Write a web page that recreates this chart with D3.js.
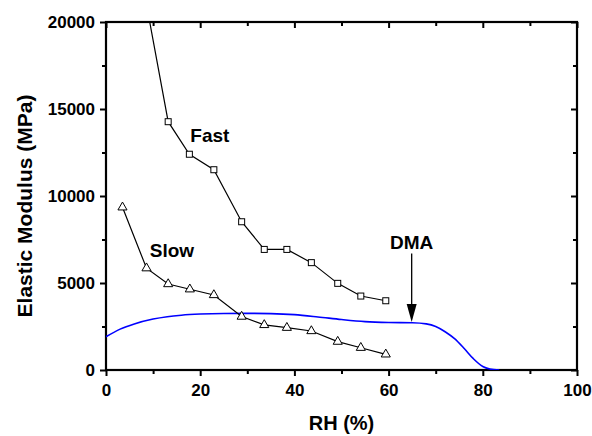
<!DOCTYPE html>
<html>
<head>
<meta charset="utf-8">
<script src="https://cdn.jsdelivr.net/npm/d3@7"></script>
<style>
  body { margin: 0; background: #fff; }
  text { font-family: Arial, "Liberation Sans", sans-serif; font-weight: bold; }
</style>
</head>
<body>
<svg id="chart" width="592" height="436"></svg>
<script>
// Fast test (squares)
const fastRH = [8.6, 13.2, 17.7, 22.9, 28.8, 33.6, 38.4, 43.6, 49.2, 54.1, 59.4];
const fastMod = [21000, 14270, 12400, 11510, 8520, 6930, 6930, 6170, 4980, 4250, 3980];

// Slow test (triangles)
const slowRH = [3.5, 8.6, 13.2, 17.8, 22.9, 28.8, 33.6, 38.4, 43.6, 49.2, 54.1, 59.4];
const slowMod = [9350, 5850, 4940, 4640, 4310, 3070, 2590, 2430, 2240, 1630, 1280, 900];

// DMA curve
const dmaRH = [0, 3, 6, 10, 13, 16, 20, 25, 30, 35, 40, 45, 50, 55, 60, 65, 68, 70, 72, 74, 76, 78, 80, 81.5, 83.5];
const dmaMod = [1910, 2350, 2650, 2930, 3065, 3150, 3215, 3250, 3255, 3240, 3180, 3050, 2900, 2780, 2730, 2715, 2650, 2500, 2200, 1800, 1250, 650, 200, 60, 0];

const xTicks = [0, 20, 40, 60, 80, 100];
const yTicks = [0, 5000, 10000, 15000, 20000];

const svg = d3.select('#chart');
const margin = { top: 22, right: 15, bottom: 66, left: 106 };
const width = 592 - margin.left - margin.right;
const height = 436 - margin.top - margin.bottom;

const x = d3.scaleLinear().domain([0, 100]).range([0, width]);
const y = d3.scaleLinear().domain([0, 20000]).range([height, 0]);

const g = svg.append('g').attr('transform', `translate(${margin.left},${margin.top})`);

g.append('clipPath').attr('id', 'clip')
  .append('rect').attr('width', width).attr('height', height);

const minorX = d3.range(10, 100, 20);
const minorY = d3.range(2500, 20000, 5000);

function styleAxis(sel) {
  sel.select('.domain').remove();
  sel.selectAll('line').attr('stroke', '#000').attr('stroke-width', 2);
  sel.selectAll('text').attr('fill', '#000').style('font-size', '17px');
}

// bottom axis
g.append('g').attr('transform', `translate(0,${height})`)
  .call(d3.axisBottom(x).tickValues(xTicks).tickSize(6).tickPadding(8).tickFormat(d3.format('d')))
  .call(styleAxis);
g.append('g').attr('transform', `translate(0,${height})`)
  .call(d3.axisBottom(x).tickValues(minorX).tickSize(4).tickFormat(''))
  .call(styleAxis);

// left axis
g.append('g')
  .call(d3.axisLeft(y).tickValues(yTicks).tickSize(6).tickPadding(5).tickFormat(d3.format('d')))
  .call(styleAxis);
g.append('g')
  .call(d3.axisLeft(y).tickValues(minorY).tickSize(4).tickFormat(''))
  .call(styleAxis);

// top and right (inward ticks)
g.append('g')
  .call(d3.axisBottom(x).tickValues(xTicks).tickSize(6).tickFormat(''))
  .call(styleAxis);
g.append('g')
  .call(d3.axisBottom(x).tickValues(minorX).tickSize(4).tickFormat(''))
  .call(styleAxis);
g.append('g').attr('transform', `translate(${width},0)`)
  .call(d3.axisLeft(y).tickValues(yTicks).tickSize(6).tickFormat(''))
  .call(styleAxis);
g.append('g').attr('transform', `translate(${width},0)`)
  .call(d3.axisLeft(y).tickValues(minorY).tickSize(4).tickFormat(''))
  .call(styleAxis);

// frame
g.append('rect').attr('width', width).attr('height', height)
  .attr('fill', 'none').attr('stroke', '#000').attr('stroke-width', 2.2);

// DMA curve
const dma = dmaRH.map((d, i) => ({ x: d, y: dmaMod[i] }));
g.append('path')
  .datum(dma)
  .attr('clip-path', 'url(#clip)')
  .attr('fill', 'none')
  .attr('stroke', '#0000ff')
  .attr('stroke-width', 1.6)
  .attr('d', d3.line().x(d => x(d.x)).y(d => y(d.y)).curve(d3.curveMonotoneX));

const line = d3.line().x(d => x(d.x)).y(d => y(d.y));

const fast = fastRH.map((d, i) => ({ x: d, y: fastMod[i] }));
const slow = slowRH.map((d, i) => ({ x: d, y: slowMod[i] }));

const data = g.append('g').attr('clip-path', 'url(#clip)');

data.append('path').datum(fast)
  .attr('fill', 'none').attr('stroke', '#000').attr('stroke-width', 1.2)
  .attr('d', line);
data.append('path').datum(slow)
  .attr('fill', 'none').attr('stroke', '#000').attr('stroke-width', 1.2)
  .attr('d', line);

// square markers
data.selectAll('.sq')
  .data(fast)
  .join('rect')
  .attr('class', 'sq')
  .attr('x', d => x(d.x) - 3)
  .attr('y', d => y(d.y) - 3)
  .attr('width', 6)
  .attr('height', 6)
  .attr('fill', '#fff')
  .attr('stroke', '#000')
  .attr('stroke-width', 1);

// triangle markers
const tri = d3.symbol().type(d3.symbolTriangle).size(36);
data.selectAll('.tri')
  .data(slow)
  .join('path')
  .attr('class', 'tri')
  .attr('d', tri)
  .attr('transform', d => `translate(${x(d.x)},${y(d.y)})`)
  .attr('fill', '#fff')
  .attr('stroke', '#000')
  .attr('stroke-width', 1);

// labels
g.append('text').attr('x', x(17.9)).attr('y', y(13120)).text('Fast').style('font-size', '19px');
g.append('text').attr('x', x(9.3)).attr('y', y(6480)).text('Slow').style('font-size', '19px');
g.append('text').attr('x', x(64.9)).attr('y', y(6960)).attr('text-anchor', 'middle').text('DMA').style('font-size', '19px');

// DMA arrow
const ax = x(64.9);
const aTop = y(6700);
const aTip = y(2760);
g.append('line').attr('x1', ax).attr('x2', ax).attr('y1', aTop).attr('y2', aTip - 10)
  .attr('stroke', '#000').attr('stroke-width', 1.3);
g.append('path')
  .attr('d', `M${ax - 5},${aTip - 18}L${ax + 5},${aTip - 18}L${ax},${aTip}Z`)
  .attr('fill', '#000');

// axis titles
svg.append('text')
  .attr('x', margin.left + width / 2)
  .attr('y', 430)
  .attr('text-anchor', 'middle')
  .style('font-size', '20px')
  .text('RH (%)');

svg.append('text')
  .attr('transform', 'translate(32,206) rotate(-90)')
  .attr('text-anchor', 'middle')
  .style('font-size', '21px')
  .text('Elastic Modulus (MPa)');
</script>
</body>
</html>
